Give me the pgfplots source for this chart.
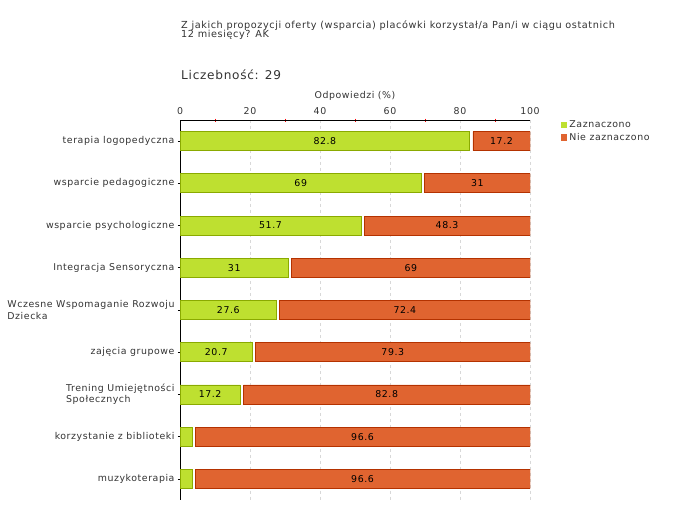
\documentclass[border=0pt]{standalone}
\usepackage{fontspec}
\setmainfont{DejaVu Sans}[LetterSpace=6]
\usepackage{pgfplots}
\pgfplotsset{compat=1.18}
\usepackage{pgfplotstable}
\definecolor{gfill}{HTML}{BEE030}
\definecolor{gdraw}{HTML}{8AAA00}
\definecolor{ofill}{HTML}{E06430}
\definecolor{odraw}{HTML}{B43200}
\definecolor{txt}{HTML}{333333}
\definecolor{gridc}{HTML}{D8D8D8}

\pgfplotstableread{
row yes no
0 82.8 17.2
1 69 31
2 51.7 48.3
3 31 69
4 27.6 72.4
5 20.7 79.3
6 17.2 82.8
7 3.4 96.6
8 3.4 96.6
}\datatable

\newcommand{\sm}{\fontsize{9.4bp}{11.5bp}\selectfont}

\begin{document}
\begin{tikzpicture}
\path[use as bounding box] (0,0) rectangle (680bp,520bp);
\node[anchor=base west, inner sep=0, font=\fontsize{9.7bp}{11.5bp}\selectfont, text=txt] at (181bp,491bp) {Z jakich propozycji oferty (wsparcia) placówki korzystał/a Pan/i w ciągu ostatnich};
\node[anchor=base west, inner sep=0, font=\fontsize{9.7bp}{11.5bp}\selectfont, text=txt] at (181bp,482.5bp) {12 miesięcy? AK};
\node[anchor=base west, inner sep=0, font=\fontsize{12.1bp}{14bp}\selectfont, text=txt] at (181bp,440bp) {Liczebność: 29};

\begin{axis}[
  at={(180bp,20bp)}, anchor=south west,
  width=350bp, height=380bp, scale only axis,
  xmin=0, xmax=100, ymin=-0.5, ymax=8.5, y dir=reverse,
  xbar stacked, bar width=19bp,
  axis x line*=top, axis y line*=left,
  axis line style={black, line width=0.8bp, -},
  xtick={0,20,...,100}, minor xtick={10,30,50,70,90},
  ytick={0,...,8},
  yticklabels={terapia logopedyczna, wsparcie pedagogiczne, wsparcie psychologiczne, Integracja Sensoryczna, {Wczesne Wspomaganie Rozwoju\\Dziecka}, zajęcia grupowe, {Trening Umiejętności\\Społecznych}, korzystanie z biblioteki, muzykoterapia},
  yticklabel style={align=left, font=\sm, text=txt},
  xticklabel style={font=\sm, text=txt},
  /pgf/number format/assume math mode=true,
  tick align=center, major tick length=4bp, minor tick length=3bp,
  tick style={black, line width=0.6bp},
  minor tick style={red, line width=0.6bp},
  every major x tick/.append style={draw=none},
  xmajorgrids, major grid style={gridc, dashed, line width=0.8bp},
  xlabel={Odpowiedzi (\%)}, xlabel style={font=\sm, text=txt},
  legend style={at={(1.085,1.006)}, anchor=north west, draw=none, font=\sm, text=txt, row sep=0bp, inner sep=1bp},
  legend cell align=left,
  legend image code/.code={\path[#1, draw=none] (0bp,-3.2bp) rectangle (6.5bp,3.2bp);},
]
\addplot[fill=gfill, draw=gdraw, line width=0.7bp] table[x=yes, y=row] {\datatable};
\addlegendentry{Zaznaczono}
\addplot[fill=none, draw=none, forget plot] table[x expr=0.9, y=row] {\datatable};
\addplot[fill=ofill, draw=odraw, line width=0.7bp] table[x expr=\thisrow{no}-0.9, y=row] {\datatable};
\addlegendentry{Nie zaznaczono}
\end{axis}

\begin{axis}[
  at={(180bp,20bp)}, anchor=south west,
  width=350bp, height=380bp, scale only axis,
  xmin=0, xmax=100, ymin=-0.5, ymax=8.5, y dir=reverse,
  hide axis,
]
\addplot[draw=none, mark=none, nodes near coords, point meta=explicit symbolic,
  every node near coord/.append style={anchor=center, font=\sm, text=black}]
  coordinates {
  (41.4,0) [82.8] (91.85,0) [17.2]
  (34.5,1) [69] (84.95,1) [31]
  (25.85,2) [51.7] (76.3,2) [48.3]
  (15.5,3) [31] (65.95,3) [69]
  (13.8,4) [27.6] (64.25,4) [72.4]
  (10.35,5) [20.7] (60.8,5) [79.3]
  (8.6,6) [17.2] (59.05,6) [82.8]
  (52.15,7) [96.6]
  (52.15,8) [96.6]
  };
\end{axis}
\end{tikzpicture}
\end{document}
